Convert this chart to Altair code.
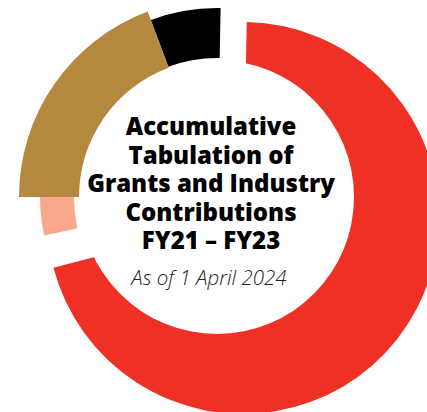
import math
import altair as alt
import pandas as pd

# ---- data (clockwise from the top-left) ----
segments = ["Black segment", "Red segment", "Peach segment", "Tan segment"]
shares = [6.0, 70.6, 3.5, 19.3]  # percent of the ring
colors = ["#000000", "#EE3124", "#F9A98B", "#B5883F"]

title_lines = ["Accumulative", "Tabulation of", "Grants and Industry",
               "Contributions", "FY21 \u2013 FY23"]
subtitle = "As of 1 April 2024"

# ---- layout / style ----
W, H = 427, 412
CX, CY = 217, 197          # ring centre
RED_CX, RED_CY = 243, 218  # red slice is pushed out toward the lower right
HOLE_R = 137
START_DEG = -20.5
GAP_AFTER_RED = 0.6
outer_r = {"Black segment": 189, "Red segment": 196, "Peach segment": 177, "Tan segment": 198}
inner_r = {"Black segment": 139, "Red segment": 100, "Peach segment": 143, "Tan segment": 138}
TITLE_TOP, LINE_H = 135, 28.5

rows = []
pos = 0.0
for name, share in zip(segments, shares):
    rows.append(dict(name=name, start=pos, end=pos + share,
                     outer=outer_r[name], inner=inner_r[name]))
    pos += share
    if name == "Red segment":
        pos += GAP_AFTER_RED
df = pd.DataFrame(rows)

s0 = math.radians(START_DEG)
theta_scale = alt.Scale(domain=[0, 100], range=[s0, s0 + 2 * math.pi])
color = alt.Color("name:N", scale=alt.Scale(domain=segments, range=colors), legend=None)


def arcs(data, cx, cy):
    return alt.Chart(data).mark_arc().encode(
        theta=alt.Theta("start:Q", scale=theta_scale, stack=None),
        theta2="end:Q",
        radius=alt.Radius("outer:Q", scale=None),
        radius2="inner:Q",
        color=color,
        x=alt.value(cx),
        y=alt.value(cy),
    )


red = arcs(df[df.name == "Red segment"], RED_CX, RED_CY)
others = arcs(df[df.name != "Red segment"], CX, CY)

hole = alt.Chart(pd.DataFrame({"k": [0]})).mark_arc(color="white").encode(
    theta=alt.value(0), theta2=alt.value(2 * math.pi),
    radius=alt.value(HOLE_R), x=alt.value(CX), y=alt.value(CY))

lines_df = pd.DataFrame({"i": list(range(len(title_lines))), "line": title_lines})
n = len(title_lines)
title = alt.Chart(lines_df).mark_text(
    font="Open Sans", fontSize=24, fontWeight=800,
    align="center", baseline="alphabetic", color="#000000",
).encode(
    text="line:N",
    x=alt.value(211),
    y=alt.Y("i:Q", scale=alt.Scale(domain=[0, n - 1],
                                    range=[TITLE_TOP, TITLE_TOP + (n - 1) * LINE_H]),
            axis=None),
)

sub = alt.Chart(pd.DataFrame({"k": [0]})).mark_text(
    font="Open Sans", fontSize=20.5, fontStyle="italic", fontWeight=300,
    align="center", baseline="alphabetic", color="#222222",
).encode(text=alt.value(subtitle), x=alt.value(209), y=alt.value(285))

chart = alt.layer(red, hole, others, title, sub).properties(
    width=W, height=H, autosize=alt.AutoSizeParams(type="none"), padding=0,
    background="white",
).configure_view(stroke=None)

chart.save("out.html", embed_options={"renderer": "svg", "actions": False})
